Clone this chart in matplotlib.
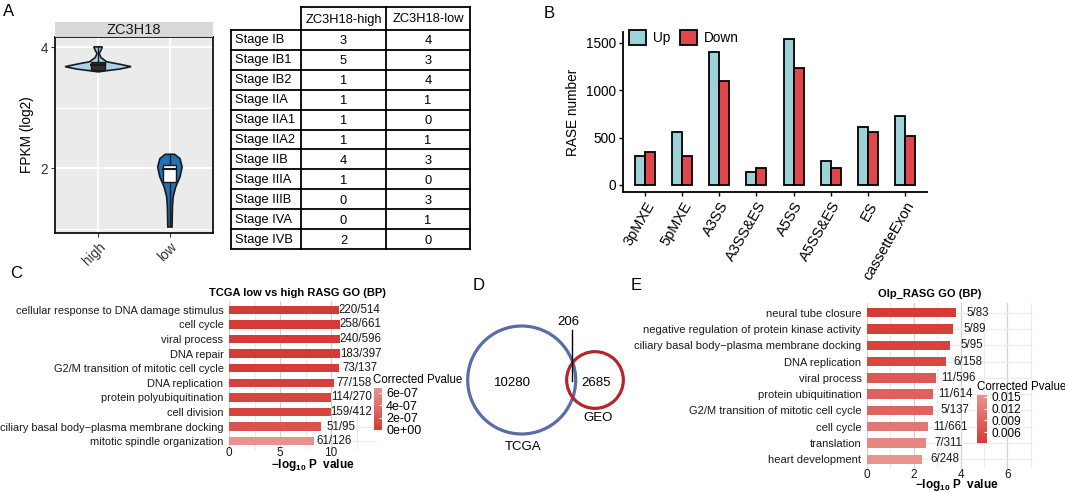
import numpy as np
import matplotlib
matplotlib.use("Agg")
import matplotlib.pyplot as plt
from matplotlib.patches import Rectangle, Circle, Patch
from matplotlib.colors import LinearSegmentedColormap, Normalize
from matplotlib.cm import ScalarMappable

plt.rcParams['font.family'] = ['Liberation Sans', 'DejaVu Sans']
plt.rcParams['mathtext.fontset'] = 'custom'
plt.rcParams['mathtext.rm'] = 'Liberation Sans'
plt.rcParams['mathtext.bf'] = 'Liberation Sans:bold'
plt.rcParams['mathtext.it'] = 'Liberation Sans:italic'

# ---------------- data ----------------
# Panel A: violin profiles (value, half-width)
violin_groups = ["high", "low"]
high_prof_y = [3.596, 3.607, 3.64, 3.68, 3.72, 3.76, 3.83, 3.897, 3.952, 4.007]
high_prof_w = [0.02, 0.08, 0.30, 0.46, 0.30, 0.12, 0.04, 0.015, 0.04, 0.06]
low_prof_y = [1.03, 1.36, 1.526, 1.69, 1.856, 2.02, 2.16, 2.231]
low_prof_w = [0.03, 0.035, 0.045, 0.08, 0.14, 0.17, 0.14, 0.065]
# box: q1, median, q3, whisker low, whisker high
high_box = [3.62, 3.70, 3.76, 3.60, 4.00]
low_box = [1.77, 1.98, 2.06, 1.05, 2.23]

table_header = ["ZC3H18-high", "ZC3H18-low"]
stages = ["Stage IB", "Stage IB1", "Stage IB2", "Stage IIA", "Stage IIA1",
          "Stage IIA2", "Stage IIB", "Stage IIIA", "Stage IIIB", "Stage IVA", "Stage IVB"]
high_counts = [3, 5, 1, 1, 1, 1, 4, 1, 0, 0, 2]
low_counts = [4, 3, 4, 1, 0, 1, 3, 0, 3, 1, 0]

# Panel B
rase_types = ["3pMXE", "5pMXE", "A3SS", "A3SS&ES", "A5SS", "A5SS&ES", "ES", "cassetteExon"]
rase_up = [309, 556, 1400, 140, 1540, 253, 615, 731]
rase_down = [351, 306, 1100, 183, 1237, 176, 562, 517]

# Panel C
c_terms = ["cellular response to DNA damage stimulus", "cell cycle", "viral process",
           "DNA repair", "G2/M transition of mitotic cell cycle", "DNA replication",
           "protein polyubiquitination", "cell division",
           "ciliary basal body\u2212plasma membrane docking", "mitotic spindle organization"]
c_logp = [10.8, 10.9, 10.9, 10.9, 10.8, 10.3, 10.0, 10.0, 9.0, 8.3]
c_padj = [1e-8, 1e-8, 1e-8, 1e-8, 2e-8, 5e-8, 8e-8, 8e-8, 2.0e-7, 6.6e-7]
c_ratio = ["220/514", "258/661", "240/596", "183/397", "73/137", "77/158",
           "114/270", "159/412", "51/95", "61/126"]

# Panel D
venn_tcga_only = 10280
venn_overlap = 206
venn_geo_only = 2685

# Panel E
e_terms = ["neural tube closure", "negative regulation of protein kinase activity",
           "ciliary basal body\u2212plasma membrane docking", "DNA replication",
           "viral process", "protein ubiquitination", "G2/M transition of mitotic cell cycle",
           "cell cycle", "translation", "heart development"]
e_logp = [3.8, 3.67, 3.55, 3.37, 2.95, 2.84, 2.81, 2.6, 2.51, 2.37]
e_padj = [0.0033, 0.0040, 0.0045, 0.0052, 0.0074, 0.0085, 0.0090, 0.0115, 0.0135, 0.0153]
e_ratio = ["5/83", "5/89", "5/95", "6/158", "11/596", "11/614", "5/137",
           "11/661", "7/311", "6/248"]

# ---------------- figure ----------------
W, H = 1065, 492
fig = plt.figure(figsize=(W / 100, H / 100), dpi=100)


def px_axes(l, t, r, b, **kw):
    return fig.add_axes([l / W, 1 - b / H, (r - l) / W, (b - t) / H], **kw)


def ftext(x, y, s, **kw):
    fig.text(x / W, 1 - y / H, s, **kw)


# ---------- Panel A: violin ----------
axA = px_axes(55, 37, 213, 233)
axA.set_facecolor('#ebebeb')
axA.set_xlim(0.4, 2.6)
axA.set_ylim(0.93, 4.17)
axA.set_yticks([2, 4])
axA.set_yticks([1, 3], minor=True)
axA.set_xticks([1, 2])
axA.set_xticklabels(violin_groups, rotation=45, ha='right', rotation_mode='anchor')
axA.grid(which='major', color='white', lw=1.3)
axA.grid(which='minor', axis='y', color='white', lw=0.7)
axA.set_axisbelow(True)
for s in axA.spines.values():
    s.set_color('#111111')
    s.set_linewidth(1.3)
axA.tick_params(which='major', length=3, color='#333333', labelsize=9.8, labelcolor='#333333', pad=2)
axA.tick_params(which='minor', length=0)
axA.set_ylabel("FPKM (log2)", fontsize=9.8, labelpad=5)

profiles = [(high_prof_y, high_prof_w, '#a9d3ea', high_box, '#2e2e2e'),
            (low_prof_y, low_prof_w, '#2171b5', low_box, 'white')]
for i, (py, pw, col, bx, bcol) in enumerate(profiles):
    x0 = i + 1
    py = np.array(py)
    pw = np.array(pw)
    xs = np.concatenate([x0 - pw, (x0 + pw)[::-1]])
    ys = np.concatenate([py, py[::-1]])
    axA.fill(xs, ys, fc=col, ec='#1a1a1a', lw=1.2, zorder=3)
    q1, med, q3, lo, hi = bx
    axA.plot([x0, x0], [lo, hi], color='#1a1a1a', lw=1.0, zorder=4)
    bw = 0.1 if i == 0 else 0.09
    axA.add_patch(Rectangle((x0 - bw, q1), 2 * bw, q3 - q1, fc=bcol, ec='#1a1a1a', lw=1.0, zorder=5))
    axA.plot([x0 - bw, x0 + bw], [med, med], color='#1a1a1a', lw=1.5, zorder=6)

# strip
axS = px_axes(55, 22, 213, 37)
axS.set_facecolor('#d9d9d9')
axS.set_xticks([])
axS.set_yticks([])
for s in axS.spines.values():
    s.set_visible(False)
axS.text(0.5, 0.45, "ZC3H18", ha='center', va='center', fontsize=10.5, color='#1a1a1a',
         transform=axS.transAxes)

# ---------- Overlay (table, venn, letters) ----------
ov = fig.add_axes([0, 0, 1, 1])
ov.set_xlim(0, W)
ov.set_ylim(H, 0)
ov.axis('off')
ov.patch.set_alpha(0)

# table
col_edges = [231, 301, 386, 470]
header_top, row_top, row_bottom = 7, 30, 249
n_rows = len(stages)
row_h = (row_bottom - row_top) / n_rows
lwT = 1.3
ov.plot([col_edges[1], col_edges[3]], [header_top, header_top], color='black', lw=lwT)
for xe in col_edges[1:]:
    ov.plot([xe, xe], [header_top, row_bottom], color='black', lw=lwT)
ov.plot([col_edges[0], col_edges[0]], [row_top, row_bottom], color='black', lw=lwT)
for r in range(n_rows + 1):
    yy = row_top + r * row_h
    ov.plot([col_edges[0], col_edges[3]], [yy, yy], color='black', lw=lwT)
for j, h in enumerate(table_header):
    ov.text((col_edges[j + 1] + col_edges[j + 2]) / 2, (header_top + row_top) / 2 + 1, h,
            ha='center', va='center', fontsize=9.3)
for r, (st, hc, lc) in enumerate(zip(stages, high_counts, low_counts)):
    yc = row_top + (r + 0.5) * row_h + 0.5
    ov.text(col_edges[0] + 4, yc, st, ha='left', va='center', fontsize=9.3)
    ov.text((col_edges[1] + col_edges[2]) / 2, yc + 1, str(hc), ha='center', va='center', fontsize=9.3)
    ov.text((col_edges[2] + col_edges[3]) / 2, yc + 1, str(lc), ha='center', va='center', fontsize=9.3)

# venn
tcga_total = venn_tcga_only + venn_overlap
geo_total = venn_geo_only + venn_overlap
k = 54 / np.sqrt(10486)
r_t = k * np.sqrt(tcga_total)
r_g = k * np.sqrt(geo_total)
ct = (521.7, 380)
cg = (595, 380)
ov.add_patch(Circle(ct, r_t, fill=False, ec='#5a6ca6', lw=2.3))
ov.add_patch(Circle(cg, r_g, fill=False, ec='#b2272b', lw=2.3))
ov.text(512.7, 383, f"{venn_tcga_only}", ha='center', va='center', fontsize=9.5)
ov.text(596, 383, f"{venn_geo_only}", ha='center', va='center', fontsize=9.5)
ov.text(568.7, 322, f"{venn_overlap}", ha='center', va='center', fontsize=9.5)
ov.plot([571.7, 571.7], [330, 381], color='black', lw=1.0)
ov.text(522.7, 447, "TCGA", ha='center', va='center', fontsize=9.5)
ov.text(598, 418, "GEO", ha='center', va='center', fontsize=9.5)

# panel letters
for lab, (lx, ly) in zip("ABCDE", [(9, 11), (549.5, 13), (16, 273), (479, 286), (636, 285)]):
    ov.text(lx, ly, lab, ha='center', va='center', fontsize=12)

# ---------- Panel B ----------
axB = px_axes(623, 31.7, 927, 192.3)
xb = np.arange(1, len(rase_types) + 1)
bwB = 0.27
axB.bar(xb - bwB / 2, rase_up, bwB, color='#9dd2d9', ec='black', lw=1.3, zorder=3)
axB.bar(xb + bwB / 2, rase_down, bwB, color='#e0474c', ec='black', lw=1.3, zorder=3)
axB.set_xlim(0.4, 8.6)
axB.set_ylim(-77, 1617)
axB.set_yticks([0, 500, 1000, 1500])
axB.set_xticks(xb)
axB.set_xticklabels(rase_types, rotation=60, ha='right', rotation_mode='anchor')
for s in ['top', 'right']:
    axB.spines[s].set_visible(False)
for s in ['left', 'bottom']:
    axB.spines[s].set_linewidth(1.3)
axB.tick_params(length=3, width=1.0, labelsize=9.8, pad=2)
axB.tick_params(axis='x', labelsize=10.5)
axB.set_ylabel("RASE number", fontsize=9.8, labelpad=4)
handles = [Patch(fc='#9dd2d9', ec='black', lw=1.3, label='Up'),
           Patch(fc='#e0474c', ec='black', lw=1.3, label='Down')]
axB.legend(handles=handles, loc='upper left', bbox_to_anchor=(0.02, 1.01), ncol=2,
           frameon=False, fontsize=9.8, handlelength=1.25, handleheight=1.35,
           handletextpad=0.5, columnspacing=0.7, borderaxespad=0, borderpad=0)

# ---------- GO bar panels ----------
cmap = LinearSegmentedColormap.from_list('reds', ['#d43a35', '#e8948f'])


def go_panel(box, terms, logp, padj, ratios, xlim, major, minor, norm, off, lab_size, tick_pad):
    ax = px_axes(*box)
    y = np.arange(len(terms))
    ax.barh(y, logp, height=0.58, color=cmap(norm(np.array(padj))), zorder=3)
    ax.set_ylim(len(terms) - 1 + 0.6, -0.6)
    ax.set_xlim(*xlim)
    ax.set_yticks(y)
    ax.set_yticklabels(terms)
    ax.set_xticks(major)
    ax.set_xticks(minor, minor=True)
    ax.grid(which='major', axis='x', color='#d2d2d2', lw=0.9)
    ax.grid(which='minor', axis='x', color='#ebebeb', lw=0.7)
    ax.grid(which='major', axis='y', color='#ebebeb', lw=0.9)
    ax.set_axisbelow(True)
    for s in ax.spines.values():
        s.set_visible(False)
    ax.tick_params(axis='y', length=0, labelsize=lab_size, pad=4, labelcolor='#1a1a1a')
    ax.tick_params(axis='x', which='both', length=0, labelsize=8.5, pad=tick_pad, labelcolor='#1a1a1a')
    for yi, v, r in zip(y, logp, ratios):
        ax.text(v + off, yi, r, ha='center', va='center', fontsize=8.3, color='#1a1a1a', zorder=4)
    return ax


normC = Normalize(0, 6.8e-7)
axC = go_panel((229, 301, 377, 450), c_terms, c_logp, c_padj, c_ratio, (0, 14.5),
               [0, 5, 10], [2.5, 7.5, 12.5], normC, 2.0, 7.9, -2)
normE = Normalize(0.0032, 0.0155)
axE = go_panel((867, 303, 1033, 469), e_terms, e_logp, e_padj, e_ratio, (0, 7.1),
               [0, 2, 4, 6], [1, 3, 5, 7], normE, 0.95, 8.0, 0)

ftext(297, 293, "TCGA low vs high RASG GO (BP)", ha='center', va='center', fontsize=8, fontweight='bold')
ftext(930, 294, "Olp_RASG GO (BP)", ha='center', va='center', fontsize=8, fontweight='bold')
xl = r'$\mathbf{-log_{10}\ P\ \ value}$'
ftext(313, 465, xl, ha='center', va='center', fontsize=8.5)
ftext(957, 485, xl, ha='center', va='center', fontsize=8.5)


def cbar(box, norm, ticks, labels, title_xy, lsize):
    cax = px_axes(*box)
    cb = fig.colorbar(ScalarMappable(norm=norm, cmap=cmap), cax=cax)
    cb.set_ticks(ticks)
    cb.set_ticklabels(labels)
    cb.outline.set_visible(False)
    cax.tick_params(length=2, width=0.8, color='white', direction='in', labelsize=lsize, pad=3)
    ftext(title_xy[0], title_xy[1], "Corrected Pvalue", ha='left', va='center', fontsize=8.3)


cbar((374, 388, 382, 430), normC, [0, 2e-7, 4e-7, 6e-7], ['0e+00', '2e-07', '4e-07', '6e-07'], (373, 380), 9)
cbar((977, 395, 987, 443), normE, [0.006, 0.009, 0.012, 0.015], ['0.006', '0.009', '0.012', '0.015'], (977, 387), 8.5)

fig.savefig("out.png", dpi=100)
